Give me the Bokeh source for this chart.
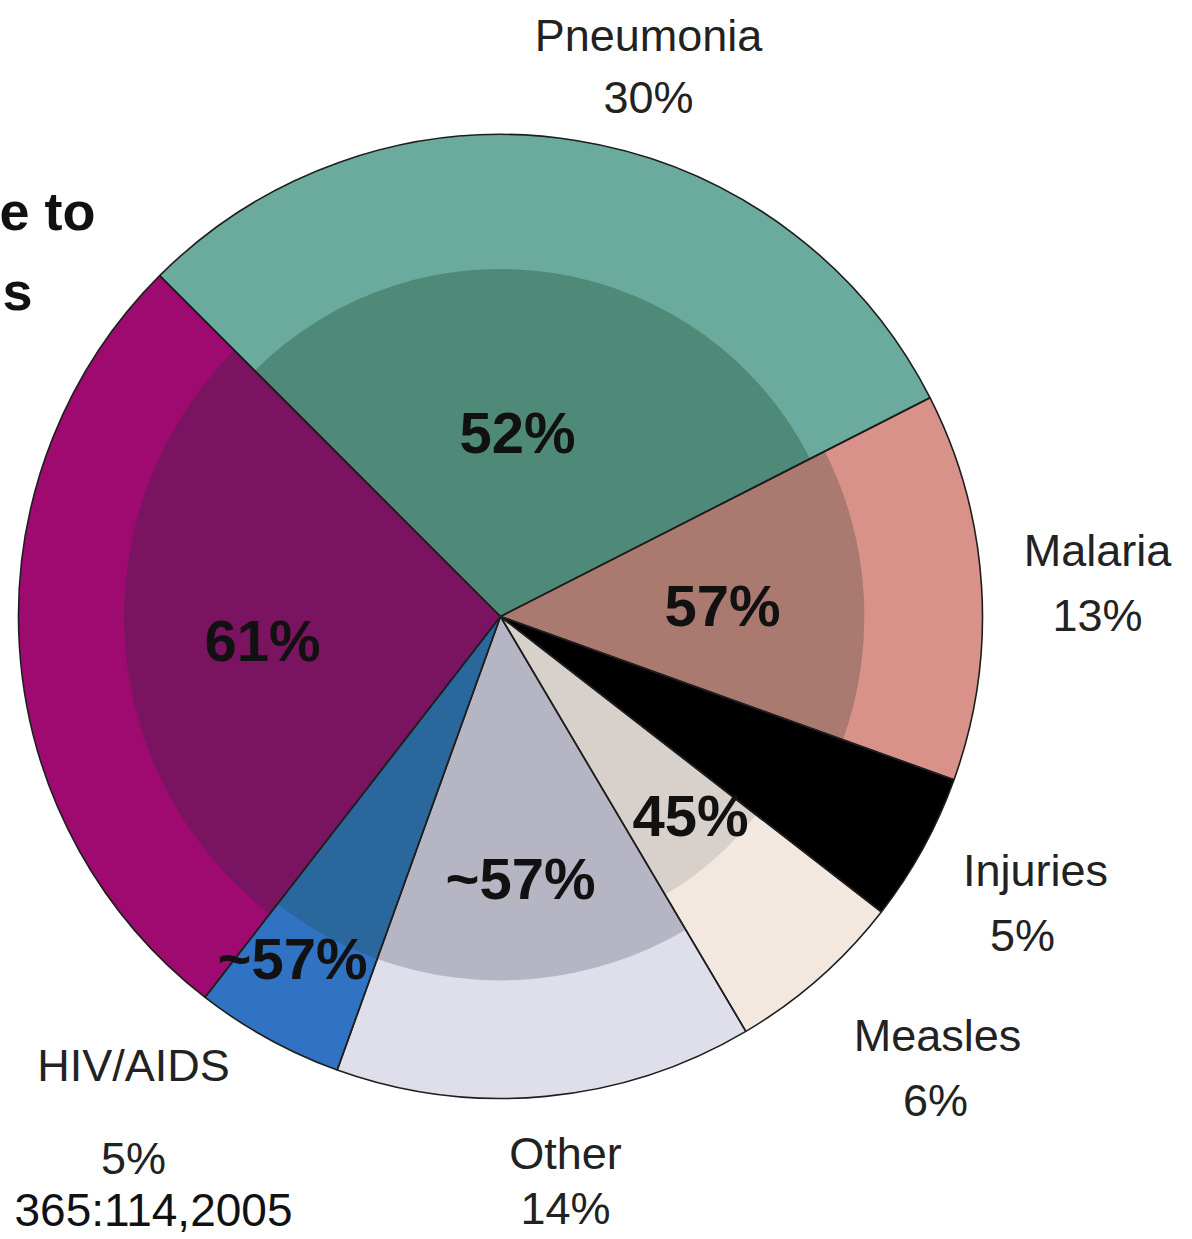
import numpy as np
from bokeh.plotting import figure
from bokeh.models import Range1d, ColumnDataSource
from bokeh.core.properties import value
from bokeh.embed import file_html
from bokeh.resources import INLINE

# ---- data ----
causes = ["Pneumonia", "Diarrhoea", "HIV/AIDS", "Other", "Measles", "Injuries", "Malaria"]
shares = [30, 27, 5, 14, 6, 5, 13]              # % of child deaths
undernut = [52, 61, 57, 57, 45, 0, 57]          # % attributable to undernutrition
undernut_text = ["52%", "61%", "~57%", "~57%", "45%", "", "57%"]
outer_colors = ["#6aab9d", "#9e0a6f", "#3073c2", "#dfdfeb", "#f3e8e0", "#000000", "#d9928a"]
inner_colors = ["#4f8a78", "#7b1460", "#2a679c", "#b5b5c3", "#d7d0cb", "#000000", "#aa796f"]
shown_labels = ["Pneumonia", "Malaria", "Injuries", "Measles", "HIV/AIDS", "Other"]

W, H = 1192, 1239
def sy(y):
    return H - y

CX, CY = 500, sy(616)
R = 482
START = np.deg2rad(27)

sh = np.array(shares, dtype=float)
ang = sh / sh.sum() * 2 * np.pi
ends = START + np.cumsum(ang)
starts = ends - ang

p = figure(width=W, height=H, x_range=Range1d(0, W), y_range=Range1d(0, H),
           x_axis_type=None, y_axis_type=None, toolbar_location=None,
           output_backend="svg", min_border=0, outline_line_color=None,
           background_fill_color="white", border_fill_color="white")

src = ColumnDataSource(dict(x=[CX]*len(causes), y=[CY]*len(causes),
                            start=starts, end=ends, color=outer_colors))
p.wedge(x="x", y="y", radius=R, start_angle="start", end_angle="end",
        fill_color="color", line_color=None, source=src)

idx = [i for i, u in enumerate(undernut) if u > 0]
isrc = ColumnDataSource(dict(x=[CX]*len(idx), y=[CY]*len(idx),
                             r=[R*np.sqrt(undernut[i]/100) for i in idx],
                             start=[starts[i] for i in idx], end=[ends[i] for i in idx],
                             color=[inner_colors[i] for i in idx]))
p.wedge(x="x", y="y", radius="r", start_angle="start", end_angle="end",
        fill_color="color", line_color=None, source=isrc)

# outlines on top
p.wedge(x="x", y="y", radius=R, start_angle="start", end_angle="end",
        fill_color=None, line_color="#1e1e1e", line_width=1.6, source=src)

font = value("Liberation Sans")

# inner percentage labels (bold)
inner_pos = {"Pneumonia": (517, 432), "Diarrhoea": (262, 640), "HIV/AIDS": (292, 958),
             "Other": (520, 878), "Measles": (690, 815), "Malaria": (722, 605)}
lx, ly, lt = [], [], []
for c, t in zip(causes, undernut_text):
    if c in inner_pos and t:
        lx.append(inner_pos[c][0]); ly.append(sy(inner_pos[c][1])); lt.append(t)
p.text(x=lx, y=ly, text=lt, text_align="center", text_baseline="middle",
       text_font=font, text_font_style="bold", text_font_size="58px", text_color="#111111")

# outer labels
name_pos = {"Pneumonia": ((648, 35), (648, 97)), "Malaria": ((1097, 550), (1097, 615)),
            "Injuries": ((1035, 870), (1022, 935)), "Measles": ((937, 1035), (935, 1100)),
            "HIV/AIDS": ((133, 1065), (133, 1158)), "Other": ((565, 1153), (565, 1208))}
nx, ny, nt = [], [], []
for c, s in zip(causes, shares):
    if c in shown_labels:
        (ax, ay), (bx, by) = name_pos[c]
        nx += [ax, bx]; ny += [sy(ay), sy(by)]; nt += [c, f"{s}%"]
p.text(x=nx, y=ny, text=nt, text_align="center", text_baseline="middle",
       text_font=font, text_font_size="45px", text_color="#222222")

# cropped title fragments and citation
p.text(x=[95, 32], y=[sy(210), sy(290)], text=["e to", "s"], text_align="right",
       text_baseline="middle", text_font=font, text_font_style="bold",
       text_font_size="54px", text_color="#111111")
p.text(x=[14], y=[sy(1209)], text=["365:114,2005"], text_align="left",
       text_baseline="middle", text_font=font, text_font_size="46px", text_color="#111111")

open("out.html", "w").write(file_html(p, INLINE))
